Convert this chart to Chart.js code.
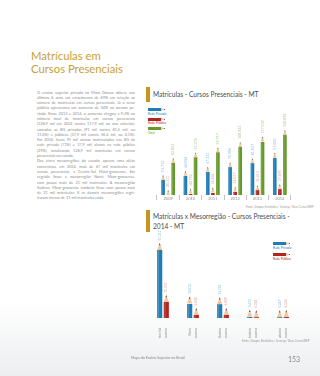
<!DOCTYPE html>
<html><head><meta charset="utf-8">
<script src="https://cdn.jsdelivr.net/npm/chart.js@4.4.1/dist/chart.umd.min.js"></script>
<style>
html,body{margin:0;padding:0;}
body{width:320px;height:376px;position:relative;overflow:hidden;background:linear-gradient(to bottom,#ffffff 0%,#ffffff 80%,#eceeef 100%);font-family:Lato,'Open Sans',sans-serif;}
.abs{position:absolute;white-space:nowrap;}
#title{left:31px;top:49px;font-size:11.3px;line-height:13px;color:#c9a132;}
#text{position:absolute;left:37px;top:89.5px;width:98px;font-size:3.8px;color:#8c8c8c;}
#text div{height:5.3px;line-height:5.3px;text-align:justify;text-align-last:justify;white-space:nowrap;}
#text div.end{text-align-last:left;}
.gold{position:absolute;background:#c6941f;width:4px;}
.ctitle{font-size:6.6px;color:#4d4d4d;line-height:10px;}
.lg{position:absolute;}
.lg .body{position:absolute;left:0;top:0;height:3px;width:13px;}
.lg .tip{position:absolute;left:13px;top:0;height:3px;width:4px;background:#f2c7a0;clip-path:polygon(0 0,100% 50%,0 100%);}
.lg .pt{position:absolute;left:15.5px;top:1px;height:1px;width:1.5px;background:#666;}
.lg .txt{position:absolute;left:0;top:3.6px;font-size:3.2px;white-space:nowrap;}
.src{font-size:2.8px;color:#9a9a9a;}
canvas{position:absolute;}
</style></head>
<body>
<div id="title" class="abs">Matrículas em<br>Cursos Presenciais</div>
<div id="text">
<div>O ensino superior privado no Mato Grosso obteve nos</div>
<div>últimos 6 anos um crescimento de 69% em relação ao</div>
<div>número de matrículas em cursos presenciais. Já o setor</div>
<div>público apresentou um aumento de 34% no mesmo pe-</div>
<div>ríodo. Entre 2013 e 2014, o aumento chegou a 9,3% no</div>
<div>número total de matrículas em cursos presenciais</div>
<div>(128,9 mil em 2014 contra 117,9 mil no ano anterior),</div>
<div>somadas as IES privadas (91 mil contra 81,5 mil, ou</div>
<div>11,6%) e públicas (37,9 mil contra 36,4 mil, ou 4,1%).</div>
<div>Em 2014, havia 91 mil alunos matriculados nas IES da</div>
<div>rede privada (71%) e 37,9 mil alunos na rede pública</div>
<div>(29%), totalizando 128,9 mil matrículas em cursos</div>
<div class="end">presenciais no estado.</div>
<div>Das cinco mesorregiões do estado, apenas uma delas</div>
<div>concentrou, em 2014, mais de 67 mil matrículas em</div>
<div>cursos presenciais, a Centro-Sul Mato-grossense. Em</div>
<div>seguida ficou a mesorregião Norte Mato-grossense,</div>
<div>com pouco mais de 21 mil matrículas. A mesorregião</div>
<div>Sudeste Mato-grossense também ficou com pouco mais</div>
<div>de 21 mil matrículas. E as demais mesorregiões regis-</div>
<div class="end">traram menos de 11 mil matrículas cada.</div>
</div>

<div class="gold" style="left:146px;top:87px;height:15px"></div>
<div class="abs ctitle" style="left:153px;top:88.5px">Matrículas - Cursos Presenciais - MT</div>
<div id="leg1"></div>
<canvas id="c1" width="175" height="101" style="left:145px;top:100px"></canvas>
<div class="abs src" style="left:246px;top:205px">Fonte: Sinopse Estatística / Semesp / Base Censo INEP</div>

<div class="gold" style="left:146px;top:210px;height:22px"></div>
<div class="abs ctitle" style="left:153px;top:210.5px">Matrículas x Mesorregião - Cursos Presenciais -<br>2014 - MT</div>
<div id="leg2"></div>
<canvas id="c2" width="180" height="120" style="left:140px;top:225px"></canvas>
<div class="abs src" style="left:242px;top:339px">Fonte: Sinopse Estatística / Semesp / Base Censo INEP</div>

<div class="abs" style="left:131px;top:355px;font-size:3.6px;color:#8a8a8a">Mapa do Ensino Superior no Brasil</div>
<div class="abs" style="left:288px;top:355px;font-size:7px;color:#8a8a8a">153</div>

<script>
// ---- data ----
const years = ['2009','2010','2011','2012','2013','2014'];
const seriesNames = ['Rede Privada','Rede Pública','Total'];
const privada = [53712, 60584, 67231, 74906, 81527, 91003];
const publica = [28311, 30792, 32486, 34017, 36412, 37895];
const total   = [82023, 91376, 99717, 108923, 117939, 128898];

const mesorregioes = [['Centro-Sul','Mato-grossense'],['Norte','Mato-grossense'],['Sudeste','Mato-grossense'],['Nordeste','Mato-grossense'],['Sudoeste','Mato-grossense']];
const privada2 = [51312, 14624, 14218, 5613, 5247];
const publica2 = [15741, 6840, 6809, 5302, 5536];

const BLUE='#1f7db6', RED='#b3261e', GREEN='#66992c';
const LBLUE='#86bde3', LRED='#e3a3a0', LGREEN='#a8c98a';

function fmt(v){return String(v).replace(/\B(?=(\d{3})+(?!\d))/g,'.');}

// legends
function legend(id, items, left, top, step){
  const el=document.getElementById(id);
  items.forEach((it,i)=>{
    const d=document.createElement('div');
    d.className='lg'; d.style.left=left+'px'; d.style.top=(top+i*step)+'px';
    d.innerHTML='<div class="body" style="background:'+it.c+'"></div><div class="tip"></div><div class="pt"></div><div class="txt" style="color:'+it.c+'">'+it.n+'</div>';
    el.appendChild(d);
  });
}
legend('leg1',[{n:seriesNames[0],c:BLUE},{n:seriesNames[1],c:RED},{n:seriesNames[2],c:GREEN}],148,108,9.5);
legend('leg2',[{n:seriesNames[0],c:BLUE},{n:seriesNames[1],c:RED}],273,242,11);

const pencil={
  id:'pencil',
  afterDatasetsDraw(chart,args,opts){
    const ctx=chart.ctx;
    chart.data.datasets.forEach((ds,di)=>{
      const meta=chart.getDatasetMeta(di);
      meta.data.forEach((bar,i)=>{
        const p=bar.getProps(['x','y','base','width'],true);
        const x=p.x,y=p.y,w=p.width,h=p.base-p.y;
        const th=Math.min(opts.tip,h);
        const l=x-w/2,r=x+w/2;
        ctx.save();
        if(h>th){ctx.fillStyle='rgba(255,255,255,0.18)';ctx.fillRect(l+w*0.15,y+th,w*0.25,h-th);}
        ctx.clearRect(l-0.5,y-0.5,w+1,th+0.5);
        ctx.beginPath();ctx.moveTo(l,y+th);ctx.lineTo(r,y+th);ctx.lineTo(x,y);ctx.closePath();
        ctx.fillStyle='#f2c7a0';ctx.fill();
        const ph=th*0.32;
        ctx.beginPath();ctx.moveTo(x-w*0.16,y+ph);ctx.lineTo(x+w*0.16,y+ph);ctx.lineTo(x,y);ctx.closePath();
        ctx.fillStyle='#555';ctx.fill();
        ctx.translate(x,y-opts.gap);ctx.rotate(-Math.PI/2);
        ctx.font=opts.font+'px Lato';ctx.fillStyle=opts.colors[di];
        ctx.textAlign='left';ctx.textBaseline='middle';
        ctx.fillText(fmt(ds.data[i]),0,0);
        ctx.restore();
      });
    });
  }
};

new Chart(document.getElementById('c1'),{
  type:'bar',
  data:{labels:years,datasets:[
    {label:seriesNames[0],data:privada,backgroundColor:BLUE},
    {label:seriesNames[1],data:publica,backgroundColor:RED},
    {label:seriesNames[2],data:total,backgroundColor:GREEN}]},
  options:{
    responsive:false,animation:false,devicePixelRatio:1,
    layout:{padding:{left:12,right:29,top:0,bottom:0}},
    datasets:{bar:{categoryPercentage:0.68,barPercentage:0.72}},
    plugins:{legend:{display:false},tooltip:{enabled:false},
      pencil:{tip:5,gap:3,font:3.6,colors:[LBLUE,LRED,LGREEN]}},
    scales:{
      x:{grid:{display:true,drawOnChartArea:false,drawTicks:true,tickLength:5,color:'#9a9a9a',lineWidth:0.6,offset:true},
         border:{display:false},
         ticks:{font:{size:4,family:'Lato'},color:'#8a8a8a',padding:-4,maxRotation:0,autoSkip:false},
         afterFit(s){s.height=6;}},
      y:{display:false,min:20100,max:179130}
    }
  },
  plugins:[pencil]
});

new Chart(document.getElementById('c2'),{
  type:'bar',
  data:{labels:mesorregioes,datasets:[
    {label:seriesNames[0],data:privada2,backgroundColor:BLUE},
    {label:seriesNames[1],data:publica2,backgroundColor:RED}]},
  options:{
    responsive:false,animation:false,devicePixelRatio:1,
    layout:{padding:{left:8,right:22,top:5,bottom:7}},
    datasets:{bar:{categoryPercentage:0.44,barPercentage:0.78}},
    plugins:{legend:{display:false},tooltip:{enabled:false},
      pencil:{tip:7,gap:2.5,font:3.2,colors:[LBLUE,LRED]}},
    scales:{
      x:{grid:{display:false},border:{display:false},
         ticks:{font:{size:2.9,family:'Lato',lineHeight:2.3},color:'#8a8a8a',padding:2,minRotation:90,maxRotation:90,autoSkip:false,labelOffset:-3.3},
         afterFit(s){s.height=20;}},
      y:{display:false,min:0,max:60200}
    }
  },
  plugins:[pencil]
});
</script>
</body></html>
